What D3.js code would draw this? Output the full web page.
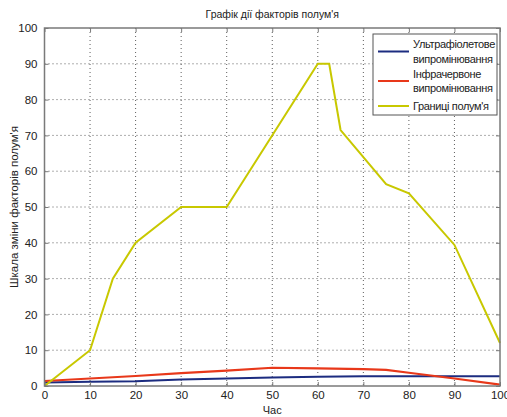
<!DOCTYPE html>
<html>
<head>
<meta charset="utf-8">
<script src="https://cdn.jsdelivr.net/npm/d3@7"></script>
<style>
  body { margin: 0; background: #fff; }
  svg { display: block; font-family: "Liberation Sans", Arial, sans-serif; }
</style>
</head>
<body>
<div id="chart"></div>
<script>
// data
const hours = [0, 10, 20, 30, 40, 50, 60, 70, 80, 90, 100];
const ultraviolet = [1.0, 1.2, 1.3, 1.8, 2.1, 2.4, 2.6, 2.7, 2.7, 2.7, 2.7];
const irHours = [0, 10, 20, 30, 40, 50, 60, 70, 75, 80, 90, 100];
const infrared = [1.4, 2.1, 2.8, 3.6, 4.3, 5.1, 4.9, 4.7, 4.5, 3.7, 2.1, 0.4];
const flameHours = [0, 10, 15, 20, 30, 40, 60, 62.5, 65, 75, 80, 90, 100];
const flame = [0, 10, 30, 40, 50, 50, 90, 90, 71.5, 56.4, 53.8, 39.4, 12];
const xTicks = [0, 10, 20, 30, 40, 50, 60, 70, 80, 90, 100];
const yTicks = [0, 10, 20, 30, 40, 50, 60, 70, 80, 90, 100];

const series = [
    { name: 'Ультрафіолетове\nвипромінювання', x: hours, y: ultraviolet, color: '#1c2c80', w: 2 },
    { name: 'Інфрачервоне\nвипромінювання', x: irHours, y: infrared, color: '#e8381a', w: 2.2 },
    { name: "Границі полум'я", x: flameHours, y: flame, color: '#c8c800', w: 2 }
];

const width = 507, height = 417;
const margin = { top: 28, right: 7, bottom: 31, left: 44.5 };
const innerW = width - margin.left - margin.right;
const innerH = height - margin.top - margin.bottom;

const svg = d3.select('#chart').append('svg')
    .attr('width', width)
    .attr('height', height);

const x = d3.scaleLinear().domain([0, 100]).range([0, innerW]);
const y = d3.scaleLinear().domain([0, 100]).range([innerH, 0]);

const g = svg.append('g')
    .attr('transform', `translate(${margin.left},${margin.top})`);

// dotted grid
g.append('g').selectAll('line.gx')
    .data(xTicks.slice(1, -1))
    .join('line')
    .attr('x1', d => x(d)).attr('x2', d => x(d))
    .attr('y1', 0).attr('y2', innerH)
    .attr('stroke', '#333').attr('stroke-width', 0.8)
    .attr('stroke-dasharray', '1,3');

g.append('g').selectAll('line.gy')
    .data(yTicks.slice(1, -1))
    .join('line')
    .attr('x1', 0).attr('x2', innerW)
    .attr('y1', d => y(d)).attr('y2', d => y(d))
    .attr('stroke', '#333').attr('stroke-width', 0.8)
    .attr('stroke-dasharray', '1,3');

// lines
const line = d3.line().x(d => x(d[0])).y(d => y(d[1]));
series.forEach(s => {
    g.append('path')
        .datum(s.x.map((v, i) => [v, s.y[i]]))
        .attr('fill', 'none')
        .attr('stroke', s.color)
        .attr('stroke-width', s.w)
        .attr('d', line);
});

// axes with inward ticks, like matlab
const axisColor = '#7a7a7a';
function styleAxis(sel, showText) {
    sel.select('.domain').remove();
    sel.selectAll('.tick line').attr('stroke', axisColor).attr('stroke-width', 1);
    sel.selectAll('.tick text')
        .attr('fill', '#222')
        .attr('font-size', 11.5)
        .style('display', showText ? null : 'none');
}

g.append('g')
    .attr('transform', `translate(0,${innerH})`)
    .call(d3.axisBottom(x).tickValues(xTicks).tickSize(-4).tickPadding(5))
    .call(s => styleAxis(s, true));

g.append('g')
    .call(d3.axisTop(x).tickValues(xTicks).tickSize(-4))
    .call(s => styleAxis(s, false));

g.append('g')
    .call(d3.axisLeft(y).tickValues(yTicks).tickSize(-4).tickPadding(7))
    .call(s => styleAxis(s, true));

g.append('g')
    .attr('transform', `translate(${innerW},0)`)
    .call(d3.axisRight(y).tickValues(yTicks).tickSize(-4))
    .call(s => styleAxis(s, false));

g.append('rect')
    .attr('width', innerW).attr('height', innerH)
    .attr('fill', 'none')
    .attr('stroke', axisColor).attr('stroke-width', 1.5);

// title and labels
svg.append('text')
    .attr('x', margin.left + innerW / 2).attr('y', 18)
    .attr('text-anchor', 'middle')
    .attr('font-size', 10.5)
    .attr('fill', '#222')
    .text("Графік дії факторів полум'я");

svg.append('text')
    .attr('x', margin.left + innerW / 2).attr('y', 414)
    .attr('text-anchor', 'middle')
    .attr('font-size', 11)
    .attr('fill', '#222')
    .text('Час');

svg.append('text')
    .attr('transform', `translate(18,${margin.top + innerH / 2}) rotate(-90)`)
    .attr('text-anchor', 'middle')
    .attr('font-size', 11.5)
    .attr('fill', '#222')
    .text("Шкала зміни факторів полум'я");

// legend
const lg = svg.append('g').attr('transform', 'translate(373,34)');
lg.append('rect')
    .attr('width', 124).attr('height', 81)
    .attr('fill', '#fff')
    .attr('stroke', '#555').attr('stroke-width', 1);

const rowY = [17.5, 47, 72];
series.forEach((s, i) => {
    lg.append('line')
        .attr('x1', 5).attr('x2', 36)
        .attr('y1', rowY[i]).attr('y2', rowY[i])
        .attr('stroke', s.color).attr('stroke-width', 2);
    const parts = s.name.split('\n');
    const t = lg.append('text')
        .attr('font-size', 11)
        .attr('letter-spacing', -0.35)
        .attr('fill', '#222');
    parts.forEach((p, j) => {
        t.append('tspan')
            .attr('x', 40)
            .attr('y', rowY[i] + 4 - (parts.length - 1) * 7.2 + j * 14.4)
            .text(p);
    });
});
</script>
</body>
</html>
